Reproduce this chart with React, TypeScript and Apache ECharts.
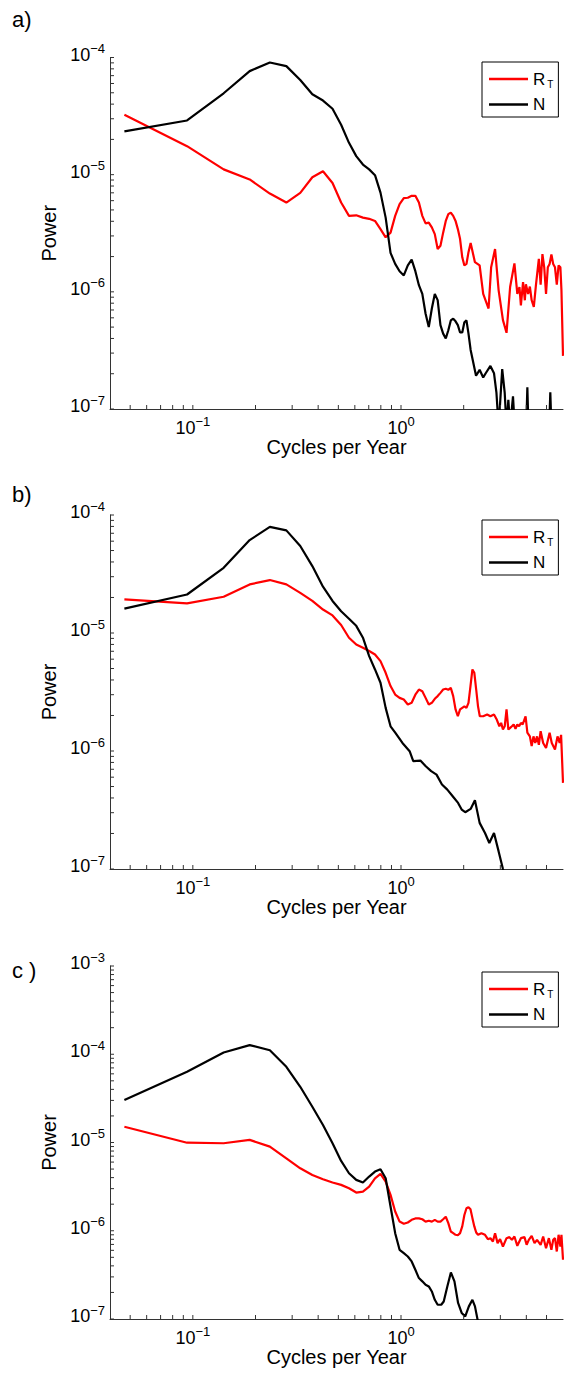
import React, { useEffect, useRef } from 'react';
import * as echarts from 'echarts';

// ---------- Panel a ----------
const aRtFreq = [0.0469, 0.0938, 0.1406, 0.1875, 0.2344, 0.2813, 0.3281, 0.375, 0.4219, 0.4688, 0.5156, 0.5625, 0.6094, 0.6563, 0.7031, 0.75, 0.7969, 0.8438, 0.8906, 0.9375, 0.9844, 1.0313, 1.0781, 1.125, 1.1719, 1.2188, 1.2656, 1.3125, 1.3594, 1.4063, 1.4531, 1.5, 1.5469, 1.5938, 1.6406, 1.6875, 1.7344, 1.7813, 1.8281, 1.875, 1.9219, 1.9688, 2.0156, 2.0625, 2.1094, 2.16, 2.265, 2.386, 2.482, 2.634, 2.71, 2.83, 2.944, 3.088, 3.213, 3.343, 3.506, 3.62, 3.707, 3.766, 3.857, 3.934, 3.981, 4.077, 4.159, 4.243, 4.345, 4.45, 4.593, 4.685, 4.779, 4.875, 4.973, 5.073, 5.174, 5.278, 5.383, 5.491, 5.602, 5.714, 5.829, 5.898, 6.0];
const aRtPower = [3.24e-5, 1.75e-5, 1.11e-5, 9.1e-6, 6.9e-6, 5.78e-6, 7.0e-6, 9.5e-6, 1.07e-5, 8.5e-6, 5.78e-6, 4.45e-6, 4.5e-6, 4.3e-6, 4.2e-6, 4.03e-6, 3.43e-6, 2.92e-6, 3.2e-6, 4.45e-6, 5.6e-6, 6.3e-6, 6.35e-6, 6.6e-6, 6.6e-6, 5.78e-6, 4.45e-6, 3.84e-6, 3.9e-6, 3.55e-6, 3.11e-6, 2.32e-6, 2.47e-6, 3.2e-6, 4.03e-6, 4.6e-6, 4.75e-6, 4.45e-6, 4.03e-6, 3.43e-6, 2.82e-6, 1.97e-6, 1.68e-6, 1.73e-6, 2.18e-6, 2.61e-6, 1.79e-6, 1.68e-6, 9.6e-7, 7.2e-7, 1.62e-6, 2.32e-6, 1.03e-6, 5.73e-7, 4.47e-7, 1.1e-6, 1.75e-6, 9.6e-7, 1.1e-6, 7.67e-7, 1.21e-6, 8.47e-7, 1.16e-6, 9.6e-7, 1.11e-6, 8.47e-7, 7.43e-7, 1.15e-6, 1.91e-6, 1.15e-6, 2.1e-6, 1.62e-6, 9.6e-7, 1.62e-6, 1.73e-6, 2.08e-6, 1.73e-6, 1.62e-6, 1.15e-6, 1.68e-6, 1.62e-6, 1.03e-6, 2.84e-7];

const aNFreq = [0.0469, 0.0938, 0.1406, 0.1875, 0.2344, 0.2813, 0.3281, 0.375, 0.4219, 0.4688, 0.5156, 0.5625, 0.6094, 0.6563, 0.7031, 0.75, 0.7969, 0.8438, 0.8906, 0.9375, 0.9844, 1.0313, 1.0781, 1.125, 1.1719, 1.2188, 1.2656, 1.3125, 1.3594, 1.4063, 1.4531, 1.5, 1.5469, 1.5938, 1.6406, 1.6875, 1.7344, 1.7813, 1.8281, 1.875, 1.9219, 1.9688, 2.0156, 2.0625, 2.1094, 2.16, 2.293, 2.386, 2.482, 2.552, 2.688, 2.797, 2.874, 2.944, 3.063, 3.149, 3.213, 3.278, 3.343, 3.451, 3.52, 3.997, 4.045, 4.094, 5.152, 5.214, 5.278, 6.0];
const aNPower = [2.34e-5, 2.9e-5, 4.95e-5, 7.65e-5, 9.07e-5, 8.44e-5, 6.42e-5, 4.85e-5, 4.29e-5, 3.65e-5, 2.67e-5, 1.87e-5, 1.44e-5, 1.22e-5, 1.11e-5, 9.9e-6, 7.03e-6, 4.3e-6, 2.15e-6, 1.73e-6, 1.5e-6, 1.38e-6, 1.68e-6, 1.88e-6, 1.5e-6, 1.14e-6, 9.6e-7, 6.5e-7, 5.0e-7, 7.2e-7, 9.6e-7, 8.5e-7, 5.2e-7, 4.4e-7, 4.0e-7, 4.7e-7, 5.7e-7, 5.9e-7, 5.6e-7, 5.2e-7, 4.5e-7, 4.5e-7, 5.5e-7, 5.7e-7, 4.4e-7, 3.19e-7, 1.92e-7, 2.16e-7, 1.86e-7, 2.02e-7, 2.33e-7, 2.02e-7, 1.37e-7, 7e-8, 2.19e-7, 1.37e-7, 7e-8, 1.2e-7, 7e-8, 1.28e-7, 7e-8, 7e-8, 1.53e-7, 7e-8, 7e-8, 1.39e-7, 7e-8, 7e-8];

// ---------- Panel b ----------
const bRtFreq = [0.0469, 0.0938, 0.1406, 0.1875, 0.2344, 0.2813, 0.3281, 0.375, 0.4219, 0.4688, 0.5156, 0.5625, 0.6094, 0.6563, 0.7031, 0.75, 0.7969, 0.8438, 0.8906, 0.9375, 0.9844, 1.0313, 1.0781, 1.125, 1.1719, 1.2188, 1.2656, 1.3125, 1.3594, 1.4063, 1.4531, 1.5, 1.5469, 1.5938, 1.6406, 1.6875, 1.7344, 1.7813, 1.8281, 1.875, 1.9219, 1.9688, 2.0156, 2.0625, 2.1094, 2.1563, 2.2031, 2.25, 2.2969, 2.3438, 2.3906, 2.482, 2.593, 2.688, 2.797, 2.874, 2.968, 3.027, 3.088, 3.149, 3.213, 3.278, 3.343, 3.41, 3.478, 3.548, 3.62, 3.692, 3.766, 3.842, 3.966, 4.045, 4.159, 4.243, 4.328, 4.414, 4.502, 4.593, 4.685, 4.818, 4.973, 5.174, 5.299, 5.491, 5.647, 5.784, 5.875, 6.0];
const bRtPower = [1.93e-5, 1.78e-5, 2.03e-5, 2.58e-5, 2.81e-5, 2.58e-5, 2.19e-5, 1.87e-5, 1.58e-5, 1.41e-5, 1.17e-5, 9.12e-6, 8.0e-6, 7.5e-6, 7.03e-6, 6.58e-6, 5.78e-6, 4.6e-6, 3.55e-6, 3.01e-6, 2.82e-6, 2.73e-6, 2.48e-6, 2.56e-6, 3.0e-6, 3.32e-6, 3.21e-6, 2.82e-6, 2.48e-6, 2.56e-6, 2.77e-6, 2.92e-6, 3.11e-6, 3.32e-6, 3.37e-6, 3.3e-6, 3.43e-6, 2.92e-6, 2.25e-6, 1.97e-6, 2.25e-6, 2.32e-6, 2.39e-6, 2.32e-6, 2.56e-6, 3.55e-6, 4.91e-6, 4.6e-6, 3.32e-6, 2.39e-6, 1.97e-6, 1.97e-6, 2.04e-6, 1.97e-6, 2.04e-6, 1.87e-6, 1.62e-6, 1.73e-6, 1.52e-6, 1.62e-6, 2.25e-6, 1.52e-6, 1.57e-6, 1.62e-6, 1.68e-6, 1.54e-6, 1.68e-6, 1.62e-6, 1.73e-6, 1.68e-6, 1.97e-6, 1.43e-6, 1.33e-6, 1.1e-6, 1.33e-6, 1.17e-6, 1.33e-6, 1.13e-6, 1.47e-6, 1.17e-6, 1.06e-6, 1.43e-6, 1.17e-6, 1.03e-6, 1.33e-6, 1.17e-6, 1.37e-6, 5.37e-7];

const bNFreq = [0.0469, 0.0938, 0.1406, 0.1875, 0.2344, 0.2813, 0.3281, 0.375, 0.4219, 0.4688, 0.5156, 0.5625, 0.6094, 0.6563, 0.7031, 0.75, 0.7969, 0.8438, 0.8906, 0.938, 1.016, 1.1, 1.145, 1.239, 1.315, 1.396, 1.481, 1.573, 1.669, 1.771, 1.88, 1.956, 2.035, 2.16, 2.265, 2.386, 2.532, 2.656, 2.797, 2.944, 3.088, 3.213];
const bNPower = [1.61e-5, 2.12e-5, 3.57e-5, 6.13e-5, 7.92e-5, 7.41e-5, 5.46e-5, 3.69e-5, 2.47e-5, 1.87e-5, 1.53e-5, 1.32e-5, 1.15e-5, 9.12e-6, 6.37e-6, 4.91e-6, 3.79e-6, 2.32e-6, 1.62e-6, 1.43e-6, 1.17e-6, 9.96e-7, 8.2e-7, 8.3e-7, 7.43e-7, 6.75e-7, 6.31e-7, 5.2e-7, 4.71e-7, 4.14e-7, 3.63e-7, 3.19e-7, 3.03e-7, 3.23e-7, 3.83e-7, 2.46e-7, 2.02e-7, 1.66e-7, 2.02e-7, 1.41e-7, 1.0e-7, 8e-8];

// ---------- Panel c ----------
const cRtFreq = [0.0469, 0.0938, 0.1406, 0.1875, 0.2344, 0.2813, 0.3281, 0.375, 0.4219, 0.4688, 0.5156, 0.5625, 0.6094, 0.6563, 0.7031, 0.75, 0.7969, 0.8438, 0.8906, 0.9375, 0.9844, 1.0313, 1.0781, 1.125, 1.1719, 1.2188, 1.2656, 1.3125, 1.3594, 1.4063, 1.4531, 1.5, 1.5469, 1.5938, 1.6406, 1.6875, 1.7344, 1.7813, 1.8281, 1.875, 1.9219, 1.9688, 2.0156, 2.0625, 2.1094, 2.1563, 2.2031, 2.25, 2.2969, 2.3438, 2.433, 2.532, 2.614, 2.688, 2.763, 2.83, 2.91, 2.991, 3.088, 3.213, 3.317, 3.41, 3.506, 3.62, 3.766, 3.918, 4.013, 4.11, 4.243, 4.38, 4.502, 4.685, 4.818, 4.973, 5.133, 5.278, 5.383, 5.491, 5.602, 5.714, 5.829, 5.898, 6.0];
const cRtPower = [1.51e-5, 9.95e-6, 9.8e-6, 1.07e-5, 8.97e-6, 6.62e-6, 5.1e-6, 4.29e-6, 3.83e-6, 3.52e-6, 3.31e-6, 3.03e-6, 2.71e-6, 2.78e-6, 3.16e-6, 3.93e-6, 4.4e-6, 3.61e-6, 2.55e-6, 1.65e-6, 1.27e-6, 1.2e-6, 1.24e-6, 1.33e-6, 1.38e-6, 1.38e-6, 1.35e-6, 1.27e-6, 1.3e-6, 1.27e-6, 1.33e-6, 1.27e-6, 1.27e-6, 1.35e-6, 1.44e-6, 1.22e-6, 9.8e-7, 9.4e-7, 9.0e-7, 8.9e-7, 9.4e-7, 1.12e-6, 1.51e-6, 1.8e-6, 1.85e-6, 1.75e-6, 1.39e-6, 1.12e-6, 9.55e-7, 9.0e-7, 9.39e-7, 9.0e-7, 8.03e-7, 8.24e-7, 7.55e-7, 9.39e-7, 7.24e-7, 8.03e-7, 6.63e-7, 8.24e-7, 8.46e-7, 7.89e-7, 8.61e-7, 6.75e-7, 8.24e-7, 8.46e-7, 6.93e-7, 7.89e-7, 8.77e-7, 7.24e-7, 7.89e-7, 6.93e-7, 8.61e-7, 6.35e-7, 8.24e-7, 6.08e-7, 7.89e-7, 8.24e-7, 5.82e-7, 9.0e-7, 6.63e-7, 9.0e-7, 4.69e-7];

const cNFreq = [0.0469, 0.0938, 0.1406, 0.1875, 0.2344, 0.2813, 0.3281, 0.375, 0.4219, 0.4688, 0.5156, 0.5625, 0.6094, 0.6563, 0.7031, 0.75, 0.7969, 0.8438, 0.8906, 0.9375, 0.9844, 1.0313, 1.0781, 1.125, 1.1719, 1.2188, 1.2656, 1.3125, 1.3594, 1.4063, 1.4531, 1.5, 1.56, 1.604, 1.669, 1.736, 1.806, 1.88, 1.956, 2.035, 2.118, 2.203, 2.266, 2.339, 2.43];
const cNPower = [3.03e-5, 6.32e-5, 1.047e-4, 1.27e-4, 1.11e-4, 7.21e-5, 4.28e-5, 2.54e-5, 1.58e-5, 9.8e-6, 6.18e-6, 4.48e-6, 3.77e-6, 3.52e-6, 4.11e-6, 4.68e-6, 4.97e-6, 3.93e-6, 1.88e-6, 9.39e-7, 6.08e-7, 5.57e-7, 5.11e-7, 4.49e-7, 3.61e-7, 2.91e-7, 2.67e-7, 2.44e-7, 2.34e-7, 2.05e-7, 1.65e-7, 1.45e-7, 1.45e-7, 1.58e-7, 2.34e-7, 3.37e-7, 2.67e-7, 1.52e-7, 1.17e-7, 1.07e-7, 1.39e-7, 1.65e-7, 1.39e-7, 9.5e-8, 6e-8];

// ---------- Axes / labels ----------
const panelLabels = ['a)', 'b)', 'c )'];
const xMin = 0.04;
const xMax = 6;
const yMins = [1e-7, 1e-7, 1e-7];
const yMaxs = [1e-4, 1e-4, 1e-3];
const xTickValues = [0.05, 0.06, 0.07, 0.08, 0.09, 0.1, 0.2, 0.3, 0.4, 0.5, 0.6, 0.7, 0.8, 0.9, 1, 2, 3, 4, 5];
const seriesNames = ['R_T', 'N'];
const xName = 'Cycles per Year';
const yName = 'Power';

const FONT = '"Liberation Sans", Arial, Helvetica, sans-serif';
const AXIS_COLOR = '#333333';

// layout
const GRID_LEFT = 110;
const GRID_WIDTH = 453;
const gridTops = [57.5, 515, 966];
const gridHeights = [351.5, 354, 353];
const legendTops = [62, 520, 972];
const labelBaselines = [28, 503, 979];

function pairs(f: number[], p: number[]) {
  return f.map((x, i) => [x, p[i]]);
}

function yTickValues(lo: number, hi: number) {
  const out: number[] = [];
  const d0 = Math.round(Math.log10(lo));
  const d1 = Math.round(Math.log10(hi));
  for (let d = d0; d < d1; d++) {
    for (let m = 1; m <= 9; m++) out.push(m * Math.pow(10, d));
  }
  out.push(hi);
  return out;
}

function powLabel(v: number) {
  const l = Math.log10(v);
  const e = Math.round(l);
  if (Math.abs(l - e) > 1e-6) return '';
  const s = e < 0 ? '\u2212' + Math.abs(e) : String(e);
  return '{b|10}{s|' + s + '}';
}

const labelRich = {
  b: { fontSize: 18, fontFamily: FONT, color: '#000', padding: [0, 0, 6, 0] },
  s: { fontSize: 13, fontFamily: FONT, color: '#000', padding: [0, 0, 18, 0] },
};

export default function App() {
  const ref = useRef<HTMLDivElement>(null);

  useEffect(() => {
    if (!ref.current) return;
    const chart = echarts.init(ref.current, undefined, { renderer: 'svg' });

    const panels = [
      { rt: pairs(aRtFreq, aRtPower), n: pairs(aNFreq, aNPower) },
      { rt: pairs(bRtFreq, bRtPower), n: pairs(bNFreq, bNPower) },
      { rt: pairs(cRtFreq, cRtPower), n: pairs(cNFreq, cNPower) },
    ];

    const grid: any[] = [];
    const xAxis: any[] = [];
    const yAxis: any[] = [];
    const series: any[] = [];
    const legend: any[] = [];
    const graphic: any[] = [];

    panels.forEach((p, i) => {
      grid.push({ left: GRID_LEFT, width: GRID_WIDTH, top: gridTops[i], height: gridHeights[i], containLabel: false });
      xAxis.push({
        type: 'log',
        logBase: 10,
        gridIndex: i,
        min: xMin,
        max: xMax,
        name: xName,
        nameLocation: 'middle',
        nameGap: 28,
        nameTextStyle: { fontSize: 20, fontFamily: FONT, color: '#000' },
        axisLine: { show: true, lineStyle: { color: AXIS_COLOR, width: 1 } },
        axisTick: { show: false },
        splitLine: { show: false },
        axisLabel: { formatter: powLabel, rich: labelRich, margin: 6, showMinLabel: false, showMaxLabel: false },
      });
      yAxis.push({
        type: 'log',
        logBase: 10,
        gridIndex: i,
        min: yMins[i],
        max: yMaxs[i],
        name: yName,
        nameLocation: 'middle',
        nameGap: 45,
        nameTextStyle: { fontSize: 20, fontFamily: FONT, color: '#000' },
        axisLine: { show: true, lineStyle: { color: AXIS_COLOR, width: 1 } },
        axisTick: { show: false },
        splitLine: { show: false },
        axisLabel: { formatter: powLabel, rich: labelRich, margin: 5 },
      });
      const yMin = yMins[i];
      series.push({
        type: 'line',
        name: seriesNames[0],
        xAxisIndex: i,
        yAxisIndex: i,
        data: p.rt,
        symbol: 'none',
        showSymbol: false,
        clip: true,
        lineStyle: { color: '#ff0000', width: 2.2 },
        itemStyle: { color: '#ff0000' },
        z: 3,
      });
      series.push({
        type: 'line',
        name: seriesNames[1],
        xAxisIndex: i,
        yAxisIndex: i,
        data: p.n,
        symbol: 'none',
        showSymbol: false,
        clip: true,
        lineStyle: { color: '#000000', width: 2.2 },
        itemStyle: { color: '#000000' },
        z: 4,
      });
      series.push({
        type: 'custom',
        xAxisIndex: i,
        yAxisIndex: i,
        silent: true,
        z: 5,
        data: xTickValues.map((v) => [v, yMin]),
        renderItem: (params: any, api: any) => {
          const pt = api.coord([api.value(0), api.value(1)]);
          return {
            type: 'line',
            shape: { x1: pt[0], y1: pt[1], x2: pt[0], y2: pt[1] - 4 },
            style: { stroke: AXIS_COLOR, lineWidth: 1 },
          };
        },
      });
      series.push({
        type: 'custom',
        xAxisIndex: i,
        yAxisIndex: i,
        silent: true,
        z: 5,
        data: yTickValues(yMins[i], yMaxs[i]).map((v) => [xMin, v]),
        renderItem: (params: any, api: any) => {
          const pt = api.coord([api.value(0), api.value(1)]);
          return {
            type: 'line',
            shape: { x1: pt[0], y1: pt[1], x2: pt[0] + 4, y2: pt[1] },
            style: { stroke: AXIS_COLOR, lineWidth: 1 },
          };
        },
      });
      legend.push({
        show: true,
        orient: 'vertical',
        left: 482,
        top: legendTops[i],
        data: seriesNames.map((nm) => ({ name: nm, icon: 'rect' })),
        itemWidth: 39,
        itemHeight: 2.5,
        itemGap: 7,
        padding: [7, 5, 4, 7],
        borderColor: '#000',
        borderWidth: 1,
        backgroundColor: '#fff',
        selectedMode: false,
        formatter: (name: string) => (name === 'R_T' ? '{r|R}{t|T}' : '{r|N}'),
        textStyle: {
          fontFamily: FONT,
          color: '#000',
          rich: {
            r: { fontSize: 17, fontFamily: FONT, color: '#000', lineHeight: 20 },
            t: { fontSize: 10, fontFamily: FONT, color: '#000', lineHeight: 10, padding: [10, 0, 0, 2] },
          },
        },
      });
      graphic.push({
        type: 'text',
        left: 12,
        top: labelBaselines[i] - 20,
        style: { text: panelLabels[i], font: '22px ' + FONT, fill: '#000' },
      });
    });

    chart.setOption({
      animation: false,
      backgroundColor: '#ffffff',
      grid,
      xAxis,
      yAxis,
      series,
      legend,
      graphic,
    });

    return () => chart.dispose();
  }, []);

  return <div ref={ref} style={{ position: 'absolute', left: 0, top: 0, width: 564, height: 1376 }} />;
}
